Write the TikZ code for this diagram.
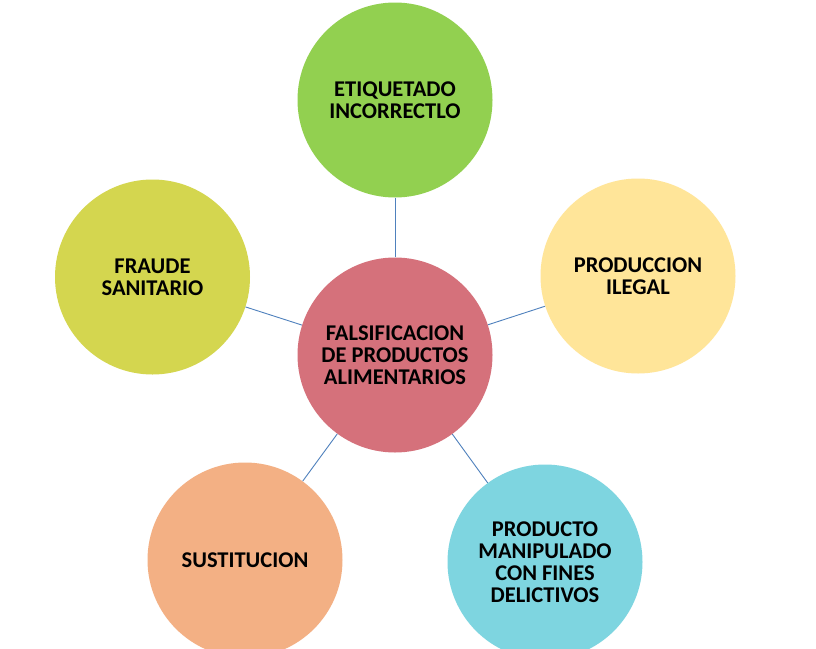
\documentclass[tikz,border=0pt]{standalone}
\usepackage{fontspec}
\setmainfont{Carlito}
\definecolor{cgreen}{HTML}{92D050}
\definecolor{cyell}{HTML}{D4D64F}
\definecolor{cpale}{HTML}{FFE599}
\definecolor{cred}{HTML}{D5717B}
\definecolor{corange}{HTML}{F3B084}
\definecolor{ccyan}{HTML}{7ED5E0}
\definecolor{cline}{HTML}{4F81BD}
\begin{document}
\begin{tikzpicture}[x=1pt,y=-1pt,
  bubble/.style={circle,inner sep=0pt,minimum size=195pt,align=center,
    font=\fontsize{22.5}{22}\selectfont\bfseries,text=black},
  link/.style={draw=cline,line width=0.9pt}]
\useasboundingbox[clip] (0,0) rectangle (816,648);
\fill[white] (0,0) rectangle (816,648);
\node[bubble,fill=cred] (c) at (395,355) {FALSIFICACION\\DE PRODUCTOS\\ALIMENTARIOS};
\node[bubble,fill=cgreen] (t) at (395,100) {ETIQUETADO\\INCORRECTLO};
\node[bubble,fill=cyell] (l) at (152.5,277) {FRAUDE\\SANITARIO};
\node[bubble,fill=cpale] (r) at (638,276) {PRODUCCION\\ILEGAL};
\node[bubble,fill=corange] (bl) at (245,560) {SUSTITUCION};
\node[bubble,fill=ccyan] (br) at (545,562) {PRODUCTO\\MANIPULADO\\CON FINES\\DELICTIVOS};
\draw[link] (c) -- (t);
\draw[link] (c) -- (l);
\draw[link] (c) -- (r);
\draw[link] (c) -- (bl);
\draw[link] (c) -- (br);
\end{tikzpicture}
\end{document}
